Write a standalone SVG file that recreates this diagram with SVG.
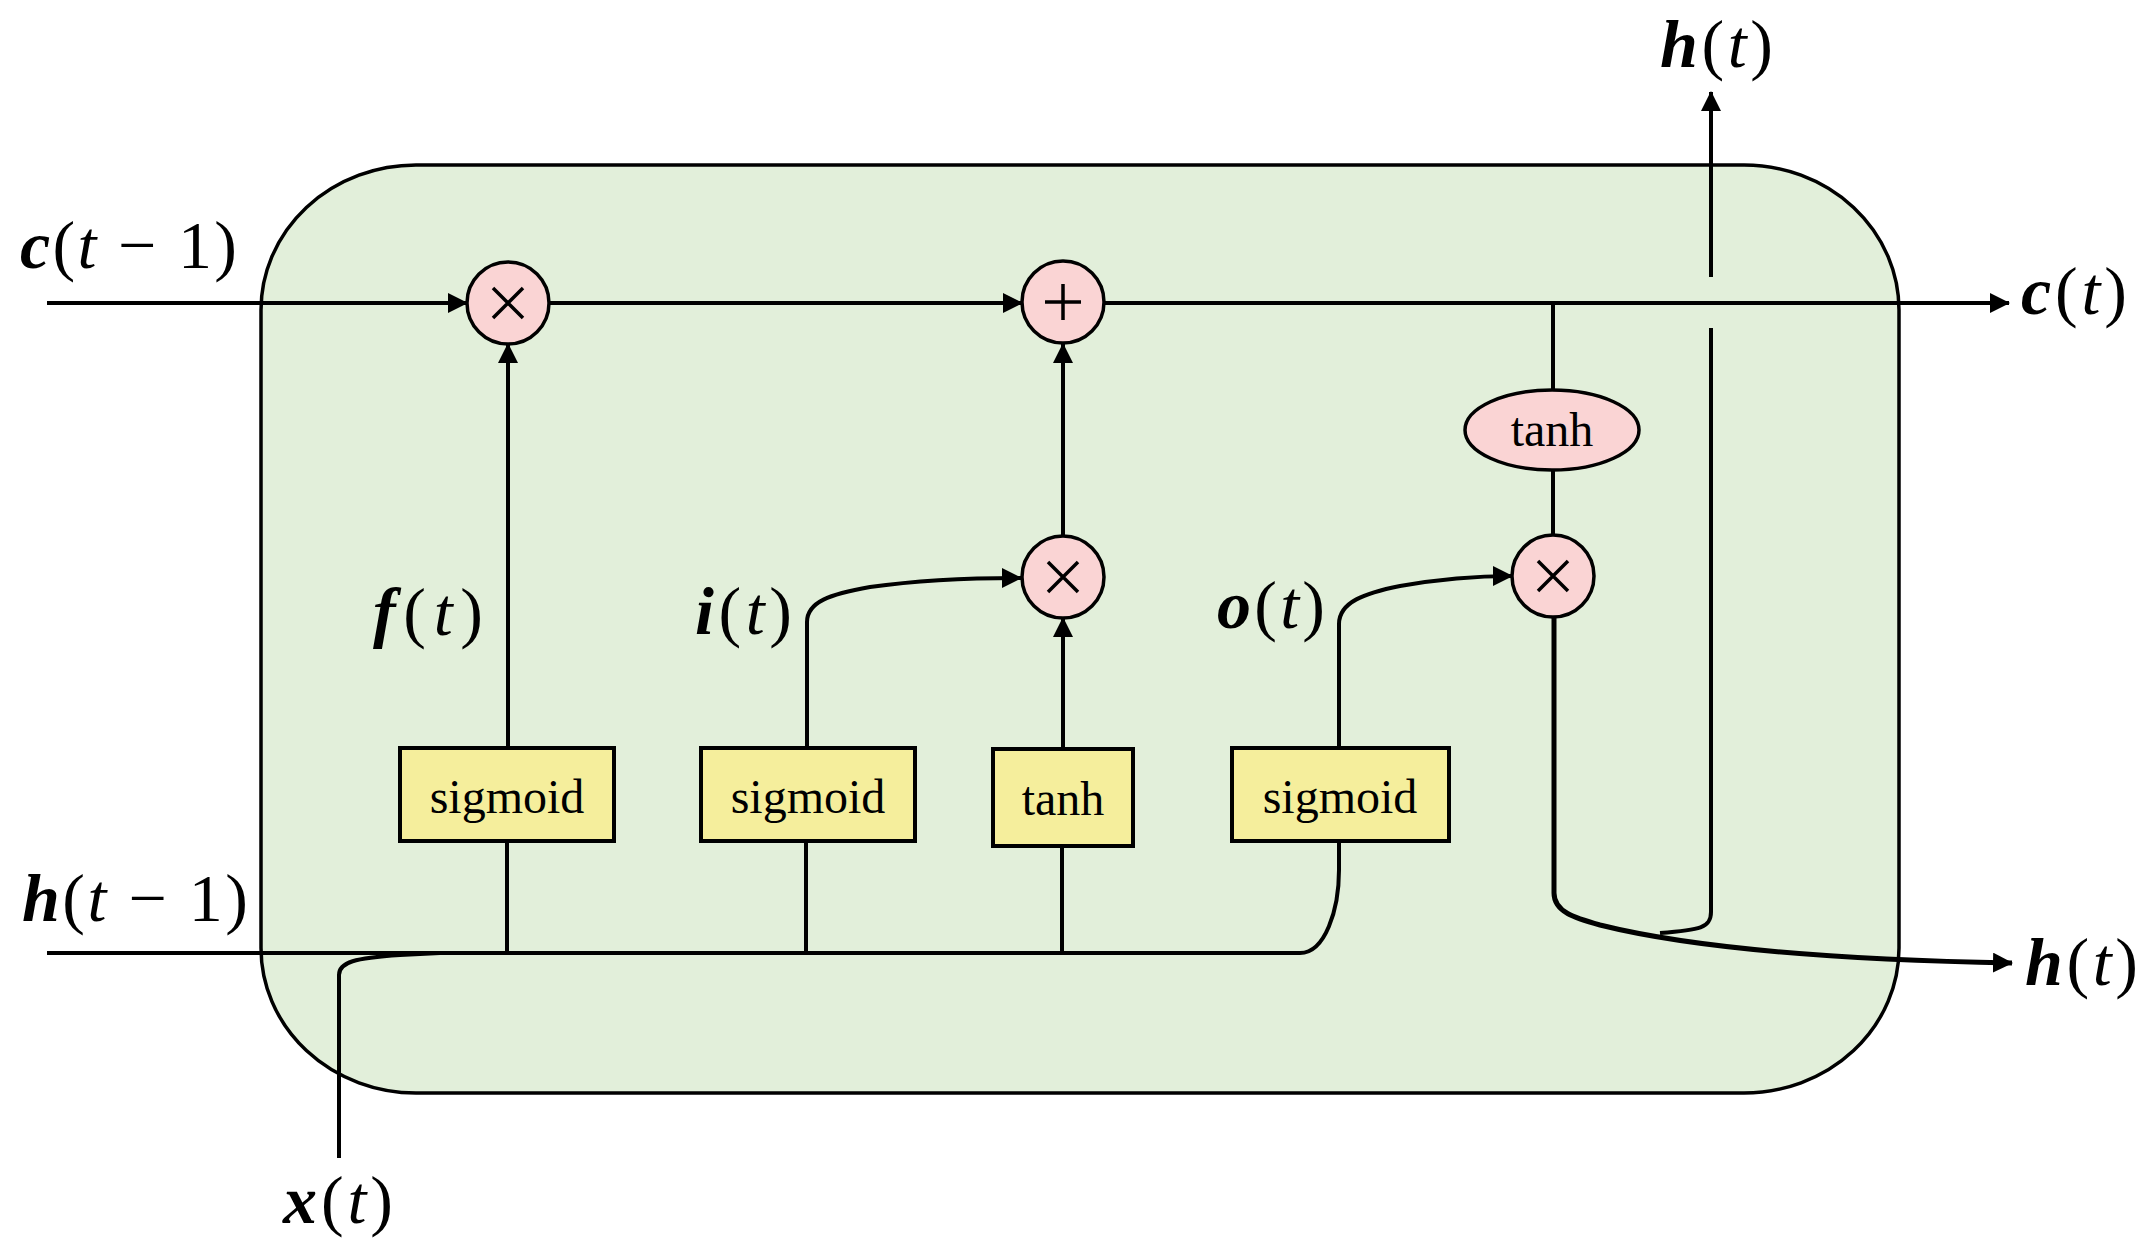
<svg xmlns="http://www.w3.org/2000/svg" width="2155" height="1250" viewBox="0 0 2155 1250">
<style>
.ln{fill:none;stroke:#000;stroke-width:4}
.thk{fill:none;stroke:#000;stroke-width:5}
.op{fill:#FAD4D4;stroke:#000;stroke-width:3.5}
.bx{fill:#F5EE9C;stroke:#000;stroke-width:4}
.sym{stroke:#000;stroke-width:3.5;fill:none}
.lbl{font-family:"Liberation Serif","Times New Roman",serif;font-size:48px;fill:#000;text-anchor:middle}
.m{font-family:"Liberation Serif","Times New Roman",serif;font-size:68px;fill:#000}
.v{font-weight:bold;font-style:italic}
.it{font-style:italic}
</style>
<defs>
<marker id="arr" markerUnits="userSpaceOnUse" markerWidth="22" markerHeight="22" refX="19" refY="10" orient="auto">
<path d="M0,0 L20,10 L0,20 z" fill="#000"/>
</marker>
</defs>
<rect width="2155" height="1250" fill="#fff"/>
<g id="cell">
<rect x="261" y="165" width="1638" height="928" rx="155" ry="145" fill="#E2EFDA" stroke="#000" stroke-width="3.5"/>
</g>
<g id="connectors">
<path class="ln" d="M47 303 L467 303" marker-end="url(#arr)"/>
<path class="ln" d="M549 303 L1022 303" marker-end="url(#arr)"/>
<path class="ln" d="M1104 303 L2009 303" marker-end="url(#arr)"/>
<path class="ln" d="M508 748 L508 344" marker-end="url(#arr)"/>
<path class="ln" d="M807 748 L807 622 C807 602 830 594 870 587 C920 580 970 578 1021 578" marker-end="url(#arr)"/>
<path class="ln" d="M1063 749 L1063 618" marker-end="url(#arr)"/>
<path class="ln" d="M1063 536 L1063 344" marker-end="url(#arr)"/>
<path class="ln" d="M1339 748 L1339 624 C1339 602 1365 593 1400 586 C1440 579 1480 576 1512 576" marker-end="url(#arr)"/>
<path class="ln" d="M1553 303 L1553 390"/>
<path class="ln" d="M1553 470 L1553 535"/>
<path class="thk" d="M1554 617 L1554 893 C1554 912 1575 918 1600 925 C1700 950 1850 960 2012 963" marker-end="url(#arr)"/>
<path class="ln" d="M1660 933 C1700 930 1711 928 1711 912 L1711 328"/>
<path class="ln" d="M1711 277 L1711 92" marker-end="url(#arr)"/>
<path class="ln" d="M47 953 L1300 953 C1325 953 1339 910 1339 870 L1339 841"/>
<path class="ln" d="M339 1158 L339 975 C339 962 355 958 400 955 L440 953"/>
<path class="ln" d="M507 841 L507 953"/>
<path class="ln" d="M806 841 L806 953"/>
<path class="ln" d="M1062 846 L1062 953"/>
</g>
<g id="mul-forget">
<circle class="op" cx="508" cy="303" r="41"/>
<path class="sym" d="M493 288 L523 318 M523 288 L493 318"/>
</g>
<g id="add-cell">
<circle class="op" cx="1063" cy="302" r="41"/>
<path class="sym" d="M1063 284 L1063 320 M1045 302 L1081 302"/>
</g>
<g id="mul-input">
<circle class="op" cx="1063" cy="577" r="41"/>
<path class="sym" d="M1048 562 L1078 592 M1078 562 L1048 592"/>
</g>
<g id="mul-output">
<circle class="op" cx="1553" cy="576" r="41"/>
<path class="sym" d="M1538 561 L1568 591 M1568 561 L1538 591"/>
</g>
<g id="tanh-cell">
<ellipse class="op" cx="1552" cy="430" rx="87" ry="40"/>
<text class="lbl" x="1552" y="446">tanh</text>
</g>
<g id="sigmoid-f">
<rect class="bx" x="400" y="748" width="214" height="93"/>
<text class="lbl" x="507" y="813">sigmoid</text>
</g>
<g id="sigmoid-i">
<rect class="bx" x="701" y="748" width="214" height="93"/>
<text class="lbl" x="808" y="813">sigmoid</text>
</g>
<g id="tanh-g">
<rect class="bx" x="993" y="749" width="140" height="97"/>
<text class="lbl" x="1063" y="815">tanh</text>
</g>
<g id="sigmoid-o">
<rect class="bx" x="1232" y="748" width="217" height="93"/>
<text class="lbl" x="1340" y="813">sigmoid</text>
</g>
<g id="labels">
<text class="m" x="20" y="268" textLength="217" lengthAdjust="spacing"><tspan class="v">c</tspan>(<tspan class="it">t</tspan> − 1)</text>
<text class="m" x="22" y="921" textLength="226" lengthAdjust="spacing"><tspan class="v">h</tspan>(<tspan class="it">t</tspan> − 1)</text>
<text class="m" x="283" y="1223" textLength="110" lengthAdjust="spacing"><tspan class="v">x</tspan>(<tspan class="it">t</tspan>)</text>
<text class="m" x="373" y="635" textLength="110" lengthAdjust="spacing"><tspan class="v">f</tspan>(<tspan class="it">t</tspan>)</text>
<text class="m" x="695" y="634" textLength="97" lengthAdjust="spacing"><tspan class="v">i</tspan>(<tspan class="it">t</tspan>)</text>
<text class="m" x="1217" y="628" textLength="108" lengthAdjust="spacing"><tspan class="v">o</tspan>(<tspan class="it">t</tspan>)</text>
<text class="m" x="1660" y="67" textLength="113" lengthAdjust="spacing"><tspan class="v">h</tspan>(<tspan class="it">t</tspan>)</text>
<text class="m" x="2021" y="314" textLength="106" lengthAdjust="spacing"><tspan class="v">c</tspan>(<tspan class="it">t</tspan>)</text>
<text class="m" x="2025" y="985" textLength="113" lengthAdjust="spacing"><tspan class="v">h</tspan>(<tspan class="it">t</tspan>)</text>
</g>
</svg>
